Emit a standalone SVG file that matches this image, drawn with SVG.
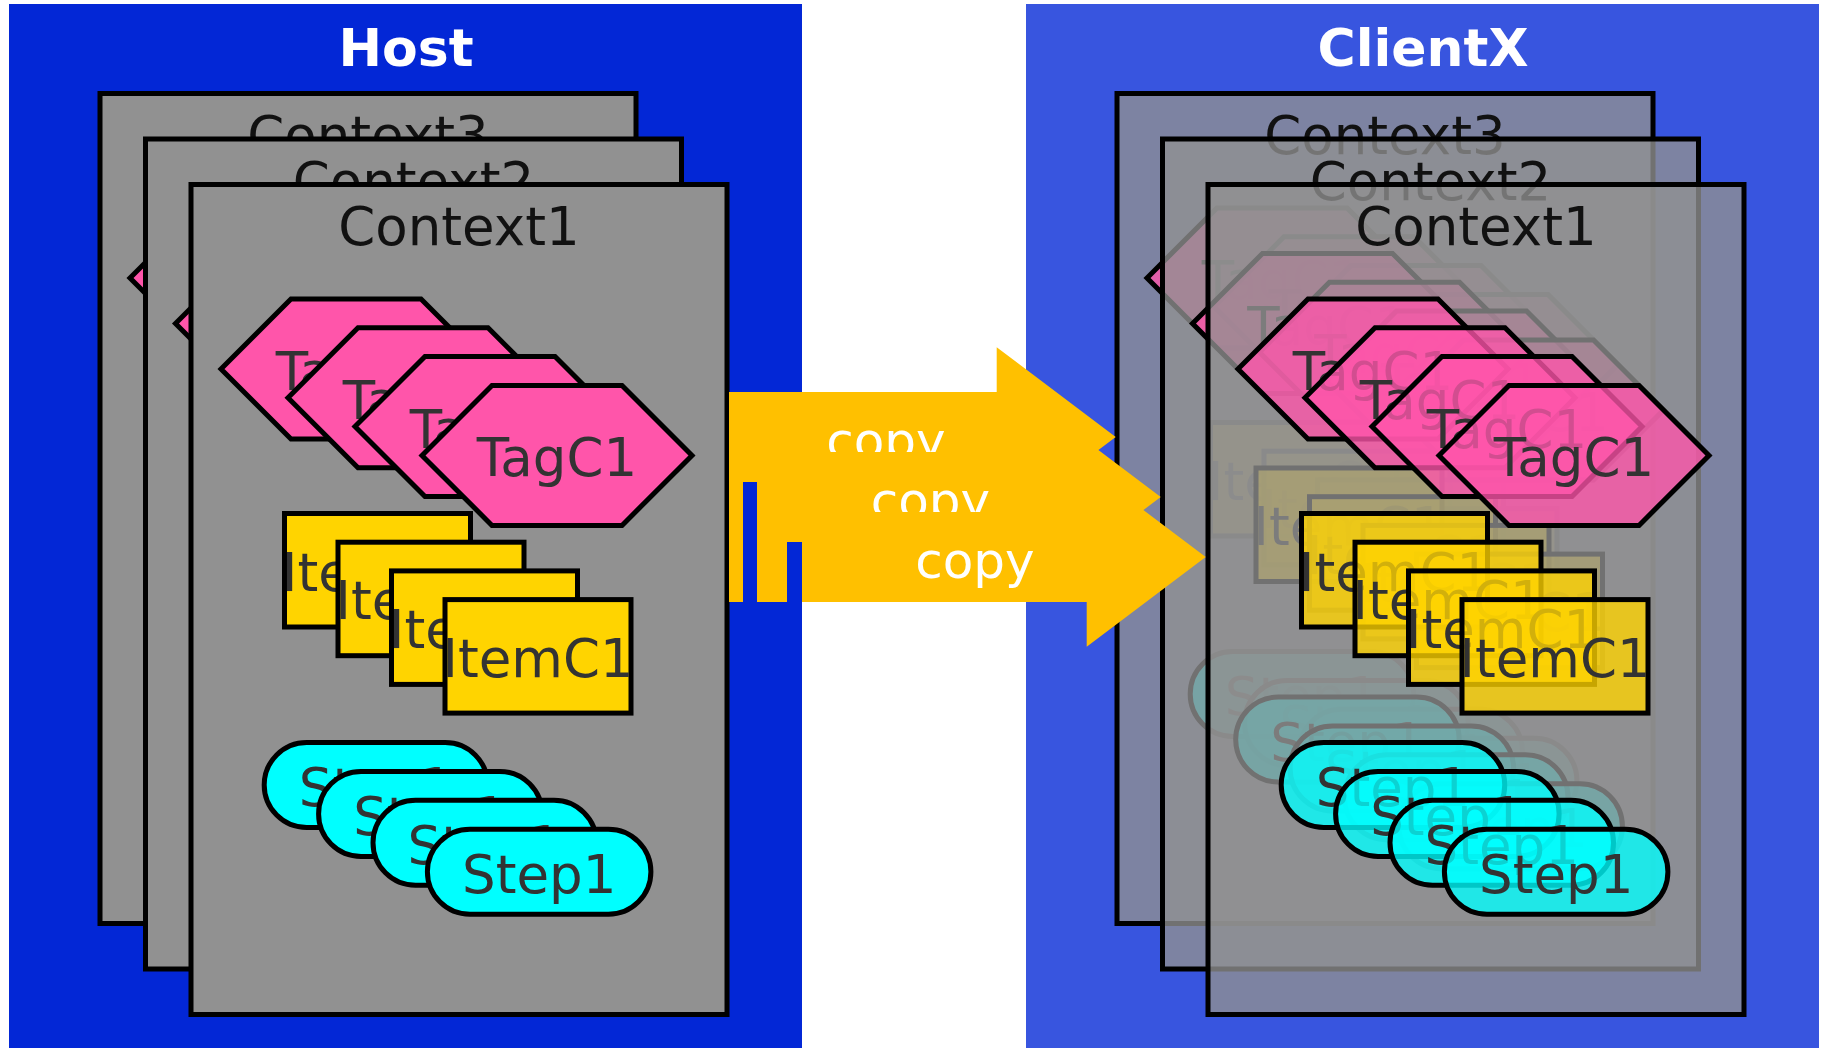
<svg xmlns="http://www.w3.org/2000/svg" width="1826" height="1048" viewBox="0 0 1826 1048">
<style>
text{font-family:"DejaVu Sans",Verdana,sans-serif;font-size:53px;text-anchor:middle}
.title{font-weight:bold;font-size:52px;fill:#ffffff}
.ctx{fill:#919191;stroke:#000;stroke-width:5}
.clab{fill:#111111}
.tag{fill:#ff55aa;stroke:#000;stroke-width:5}
.item{fill:#ffd400;stroke:#000;stroke-width:5}
.step{fill:#00ffff;stroke:#000;stroke-width:5}
.lab{fill:#333333}
.arrow{fill:#ffc000}
.alab{fill:#ffffff;font-size:50px}
.client .ctx,.client .tag,.client .item,.client .step{fill-opacity:0.78}
</style>
<defs>
<polygon id="hex" points="-135,0 -65,-70 65,-70 135,0 65,70 -65,70"/>
</defs>
<g id="host">
<rect x="9" y="4" width="793" height="1044" fill="#0327d6"/>
<text class="title" x="406" y="66">Host</text>
<g id="host-context3" transform="translate(-91,-91)">
<rect class="ctx" x="191" y="184.5" width="536" height="830"/>
<text class="clab" x="459" y="245">Context3</text>
<g id="h3-tag1"><use href="#hex" class="tag" x="356" y="369"/><text class="lab" x="356" y="390">TagC1</text></g>
<g id="h3-tag2"><use href="#hex" class="tag" x="423" y="397.8"/><text class="lab" x="423" y="418.8">TagC1</text></g>
<g id="h3-tag3"><use href="#hex" class="tag" x="490" y="426.6"/><text class="lab" x="490" y="447.6">TagC1</text></g>
<g id="h3-tag4"><use href="#hex" class="tag" x="557" y="455.4"/><text class="lab" x="557" y="476.4">TagC1</text></g>
<g id="h3-item1"><rect class="item" x="284.5" y="513.5" width="186" height="113.5"/><text class="lab" x="377.5" y="590.5">ItemC1</text></g>
<g id="h3-item2"><rect class="item" x="338" y="542.2" width="186" height="113.5"/><text class="lab" x="431" y="619.2">ItemC1</text></g>
<g id="h3-item3"><rect class="item" x="391.5" y="570.9" width="186" height="113.5"/><text class="lab" x="484.5" y="647.9">ItemC1</text></g>
<g id="h3-item4"><rect class="item" x="445" y="599.6" width="186" height="113.5"/><text class="lab" x="538" y="676.6">ItemC1</text></g>
<g id="h3-step1"><rect class="step" x="264.2" y="742.5" width="223.5" height="85" rx="42.5"/><text class="lab" x="376" y="806">Step1</text></g>
<g id="h3-step2"><rect class="step" x="318.6" y="771.4" width="223.5" height="85" rx="42.5"/><text class="lab" x="430.4" y="834.9">Step1</text></g>
<g id="h3-step3"><rect class="step" x="373" y="800.3" width="223.5" height="85" rx="42.5"/><text class="lab" x="484.8" y="863.8">Step1</text></g>
<g id="h3-step4"><rect class="step" x="427.4" y="829.2" width="223.5" height="85" rx="42.5"/><text class="lab" x="539.2" y="892.7">Step1</text></g>
</g>
<g id="host-context2" transform="translate(-45.5,-45.5)">
<rect class="ctx" x="191" y="184.5" width="536" height="830"/>
<text class="clab" x="459" y="245">Context2</text>
<g id="h2-tag1"><use href="#hex" class="tag" x="356" y="369"/><text class="lab" x="356" y="390">TagC1</text></g>
<g id="h2-tag2"><use href="#hex" class="tag" x="423" y="397.8"/><text class="lab" x="423" y="418.8">TagC1</text></g>
<g id="h2-tag3"><use href="#hex" class="tag" x="490" y="426.6"/><text class="lab" x="490" y="447.6">TagC1</text></g>
<g id="h2-tag4"><use href="#hex" class="tag" x="557" y="455.4"/><text class="lab" x="557" y="476.4">TagC1</text></g>
<g id="h2-item1"><rect class="item" x="284.5" y="513.5" width="186" height="113.5"/><text class="lab" x="377.5" y="590.5">ItemC1</text></g>
<g id="h2-item2"><rect class="item" x="338" y="542.2" width="186" height="113.5"/><text class="lab" x="431" y="619.2">ItemC1</text></g>
<g id="h2-item3"><rect class="item" x="391.5" y="570.9" width="186" height="113.5"/><text class="lab" x="484.5" y="647.9">ItemC1</text></g>
<g id="h2-item4"><rect class="item" x="445" y="599.6" width="186" height="113.5"/><text class="lab" x="538" y="676.6">ItemC1</text></g>
<g id="h2-step1"><rect class="step" x="264.2" y="742.5" width="223.5" height="85" rx="42.5"/><text class="lab" x="376" y="806">Step1</text></g>
<g id="h2-step2"><rect class="step" x="318.6" y="771.4" width="223.5" height="85" rx="42.5"/><text class="lab" x="430.4" y="834.9">Step1</text></g>
<g id="h2-step3"><rect class="step" x="373" y="800.3" width="223.5" height="85" rx="42.5"/><text class="lab" x="484.8" y="863.8">Step1</text></g>
<g id="h2-step4"><rect class="step" x="427.4" y="829.2" width="223.5" height="85" rx="42.5"/><text class="lab" x="539.2" y="892.7">Step1</text></g>
</g>
<g id="host-context1">
<rect class="ctx" x="191" y="184.5" width="536" height="830"/>
<text class="clab" x="459" y="245">Context1</text>
<g id="h1-tag1"><use href="#hex" class="tag" x="356" y="369"/><text class="lab" x="356" y="390">TagC1</text></g>
<g id="h1-tag2"><use href="#hex" class="tag" x="423" y="397.8"/><text class="lab" x="423" y="418.8">TagC1</text></g>
<g id="h1-tag3"><use href="#hex" class="tag" x="490" y="426.6"/><text class="lab" x="490" y="447.6">TagC1</text></g>
<g id="h1-tag4"><use href="#hex" class="tag" x="557" y="455.4"/><text class="lab" x="557" y="476.4">TagC1</text></g>
<g id="h1-item1"><rect class="item" x="284.5" y="513.5" width="186" height="113.5"/><text class="lab" x="377.5" y="590.5">ItemC1</text></g>
<g id="h1-item2"><rect class="item" x="338" y="542.2" width="186" height="113.5"/><text class="lab" x="431" y="619.2">ItemC1</text></g>
<g id="h1-item3"><rect class="item" x="391.5" y="570.9" width="186" height="113.5"/><text class="lab" x="484.5" y="647.9">ItemC1</text></g>
<g id="h1-item4"><rect class="item" x="445" y="599.6" width="186" height="113.5"/><text class="lab" x="538" y="676.6">ItemC1</text></g>
<g id="h1-step1"><rect class="step" x="264.2" y="742.5" width="223.5" height="85" rx="42.5"/><text class="lab" x="376" y="806">Step1</text></g>
<g id="h1-step2"><rect class="step" x="318.6" y="771.4" width="223.5" height="85" rx="42.5"/><text class="lab" x="430.4" y="834.9">Step1</text></g>
<g id="h1-step3"><rect class="step" x="373" y="800.3" width="223.5" height="85" rx="42.5"/><text class="lab" x="484.8" y="863.8">Step1</text></g>
<g id="h1-step4"><rect class="step" x="427.4" y="829.2" width="223.5" height="85" rx="42.5"/><text class="lab" x="539.2" y="892.7">Step1</text></g>
</g>
</g>
<g id="clientx" class="client">
<rect x="1026" y="4" width="793" height="1044" fill="#3855df"/>
<text class="title" x="1423" y="66">ClientX</text>
<g id="client-context3" transform="translate(926,-91)">
<rect class="ctx" x="191" y="184.5" width="536" height="830"/>
<text class="clab" x="459" y="245">Context3</text>
<g id="c3-tag1"><use href="#hex" class="tag" x="356" y="369"/><text class="lab" x="356" y="390">TagC1</text></g>
<g id="c3-tag2"><use href="#hex" class="tag" x="423" y="397.8"/><text class="lab" x="423" y="418.8">TagC1</text></g>
<g id="c3-tag3"><use href="#hex" class="tag" x="490" y="426.6"/><text class="lab" x="490" y="447.6">TagC1</text></g>
<g id="c3-tag4"><use href="#hex" class="tag" x="557" y="455.4"/><text class="lab" x="557" y="476.4">TagC1</text></g>
<g id="c3-item1"><rect class="item" x="284.5" y="513.5" width="186" height="113.5"/><text class="lab" x="377.5" y="590.5">ItemC1</text></g>
<g id="c3-item2"><rect class="item" x="338" y="542.2" width="186" height="113.5"/><text class="lab" x="431" y="619.2">ItemC1</text></g>
<g id="c3-item3"><rect class="item" x="391.5" y="570.9" width="186" height="113.5"/><text class="lab" x="484.5" y="647.9">ItemC1</text></g>
<g id="c3-item4"><rect class="item" x="445" y="599.6" width="186" height="113.5"/><text class="lab" x="538" y="676.6">ItemC1</text></g>
<g id="c3-step1"><rect class="step" x="264.2" y="742.5" width="223.5" height="85" rx="42.5"/><text class="lab" x="376" y="806">Step1</text></g>
<g id="c3-step2"><rect class="step" x="318.6" y="771.4" width="223.5" height="85" rx="42.5"/><text class="lab" x="430.4" y="834.9">Step1</text></g>
<g id="c3-step3"><rect class="step" x="373" y="800.3" width="223.5" height="85" rx="42.5"/><text class="lab" x="484.8" y="863.8">Step1</text></g>
<g id="c3-step4"><rect class="step" x="427.4" y="829.2" width="223.5" height="85" rx="42.5"/><text class="lab" x="539.2" y="892.7">Step1</text></g>
</g>
<g id="client-context2" transform="translate(971.5,-45.5)">
<rect class="ctx" x="191" y="184.5" width="536" height="830"/>
<text class="clab" x="459" y="245">Context2</text>
<g id="c2-tag1"><use href="#hex" class="tag" x="356" y="369"/><text class="lab" x="356" y="390">TagC1</text></g>
<g id="c2-tag2"><use href="#hex" class="tag" x="423" y="397.8"/><text class="lab" x="423" y="418.8">TagC1</text></g>
<g id="c2-tag3"><use href="#hex" class="tag" x="490" y="426.6"/><text class="lab" x="490" y="447.6">TagC1</text></g>
<g id="c2-tag4"><use href="#hex" class="tag" x="557" y="455.4"/><text class="lab" x="557" y="476.4">TagC1</text></g>
<g id="c2-item1"><rect class="item" x="284.5" y="513.5" width="186" height="113.5"/><text class="lab" x="377.5" y="590.5">ItemC1</text></g>
<g id="c2-item2"><rect class="item" x="338" y="542.2" width="186" height="113.5"/><text class="lab" x="431" y="619.2">ItemC1</text></g>
<g id="c2-item3"><rect class="item" x="391.5" y="570.9" width="186" height="113.5"/><text class="lab" x="484.5" y="647.9">ItemC1</text></g>
<g id="c2-item4"><rect class="item" x="445" y="599.6" width="186" height="113.5"/><text class="lab" x="538" y="676.6">ItemC1</text></g>
<g id="c2-step1"><rect class="step" x="264.2" y="742.5" width="223.5" height="85" rx="42.5"/><text class="lab" x="376" y="806">Step1</text></g>
<g id="c2-step2"><rect class="step" x="318.6" y="771.4" width="223.5" height="85" rx="42.5"/><text class="lab" x="430.4" y="834.9">Step1</text></g>
<g id="c2-step3"><rect class="step" x="373" y="800.3" width="223.5" height="85" rx="42.5"/><text class="lab" x="484.8" y="863.8">Step1</text></g>
<g id="c2-step4"><rect class="step" x="427.4" y="829.2" width="223.5" height="85" rx="42.5"/><text class="lab" x="539.2" y="892.7">Step1</text></g>
</g>
<g id="client-context1" transform="translate(1017,0)">
<rect class="ctx" x="191" y="184.5" width="536" height="830"/>
<text class="clab" x="459" y="245">Context1</text>
<g id="c1-tag1"><use href="#hex" class="tag" x="356" y="369"/><text class="lab" x="356" y="390">TagC1</text></g>
<g id="c1-tag2"><use href="#hex" class="tag" x="423" y="397.8"/><text class="lab" x="423" y="418.8">TagC1</text></g>
<g id="c1-tag3"><use href="#hex" class="tag" x="490" y="426.6"/><text class="lab" x="490" y="447.6">TagC1</text></g>
<g id="c1-tag4"><use href="#hex" class="tag" x="557" y="455.4"/><text class="lab" x="557" y="476.4">TagC1</text></g>
<g id="c1-item1"><rect class="item" x="284.5" y="513.5" width="186" height="113.5"/><text class="lab" x="377.5" y="590.5">ItemC1</text></g>
<g id="c1-item2"><rect class="item" x="338" y="542.2" width="186" height="113.5"/><text class="lab" x="431" y="619.2">ItemC1</text></g>
<g id="c1-item3"><rect class="item" x="391.5" y="570.9" width="186" height="113.5"/><text class="lab" x="484.5" y="647.9">ItemC1</text></g>
<g id="c1-item4"><rect class="item" x="445" y="599.6" width="186" height="113.5"/><text class="lab" x="538" y="676.6">ItemC1</text></g>
<g id="c1-step1"><rect class="step" x="264.2" y="742.5" width="223.5" height="85" rx="42.5"/><text class="lab" x="376" y="806">Step1</text></g>
<g id="c1-step2"><rect class="step" x="318.6" y="771.4" width="223.5" height="85" rx="42.5"/><text class="lab" x="430.4" y="834.9">Step1</text></g>
<g id="c1-step3"><rect class="step" x="373" y="800.3" width="223.5" height="85" rx="42.5"/><text class="lab" x="484.8" y="863.8">Step1</text></g>
<g id="c1-step4"><rect class="step" x="427.4" y="829.2" width="223.5" height="85" rx="42.5"/><text class="lab" x="539.2" y="892.7">Step1</text></g>
</g>
</g>
<g id="connectors">
<g id="copy3">
<path class="arrow" d="M729,392 H996.7 V347.3 L1115.7,437 L996.7,526.7 V482 H729 Z"/>
<text class="alab" x="886" y="458">copy</text>
</g>
<g id="copy2">
<path class="arrow" d="M757,452 H1041.7 V407.3 L1160.7,497 L1041.7,586.7 V542 H757 Z"/>
<text class="alab" x="930.5" y="518">copy</text>
</g>
<g id="copy1">
<path class="arrow" d="M802,512 H1086.7 V467.3 L1205.7,557 L1086.7,646.7 V602 H802 Z M729,482 H743 V602 H729 Z M757,542 H787 V602 H757 Z"/>
<text class="alab" x="975" y="578">copy</text>
</g>
</g>
</svg>
